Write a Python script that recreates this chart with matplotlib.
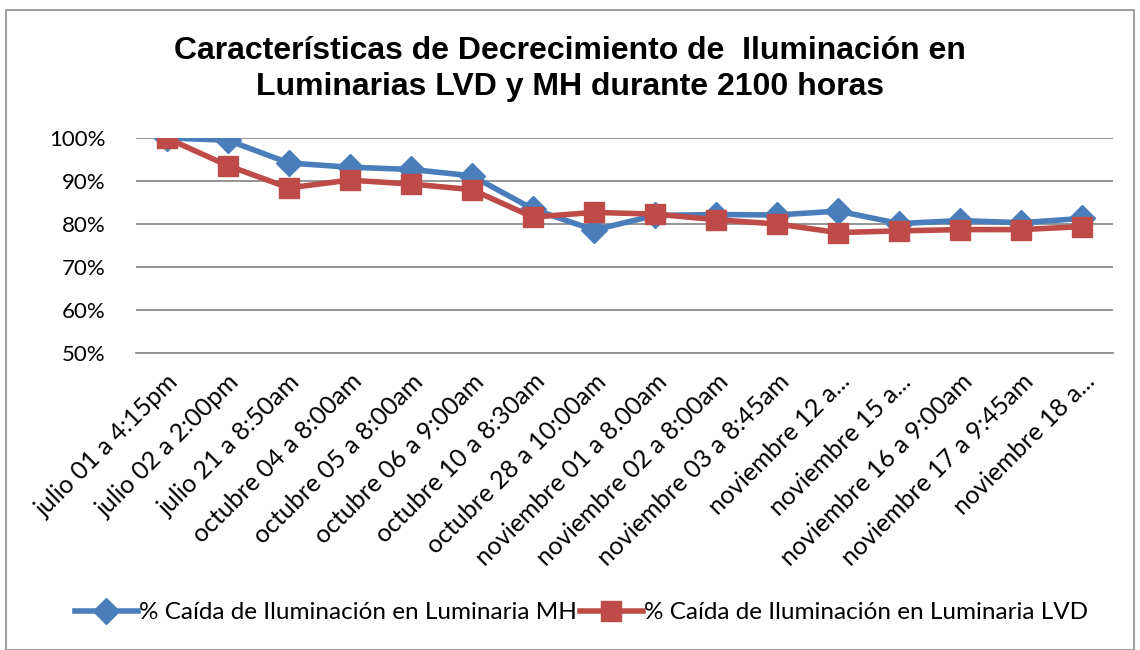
import matplotlib.pyplot as plt
from matplotlib.patches import Rectangle
from matplotlib.ticker import FuncFormatter

fechas = [
    "julio 01 a 4:15pm",
    "julio 02 a 2:00pm",
    "julio 21 a 8:50am",
    "octubre 04 a 8:00am",
    "octubre 05 a 8:00am",
    "octubre 06 a 9:00am",
    "octubre 10 a 8:30am",
    "octubre 28 a 10:00am",
    "noviembre 01 a 8.00am",
    "noviembre 02 a 8:00am",
    "noviembre 03 a 8:45am",
    "noviembre 12 a...",
    "noviembre 15 a...",
    "noviembre 16 a 9:00am",
    "noviembre 17 a 9:45am",
    "noviembre 18 a...",
]
caida_mh = [1.000, 0.995, 0.942, 0.932, 0.927, 0.912, 0.835, 0.786,
            0.820, 0.822, 0.821, 0.830, 0.801, 0.808, 0.803, 0.813]
caida_lvd = [1.000, 0.936, 0.884, 0.902, 0.893, 0.880, 0.816, 0.827,
             0.823, 0.810, 0.800, 0.780, 0.784, 0.787, 0.787, 0.794]

AZUL = "#4A7EBB"
ROJO = "#BE4B48"
FUENTE = "Lato"

fig = plt.figure(figsize=(11.4, 6.5), dpi=100)
fig.patches.append(Rectangle((0.005, 0.0), 0.99, 0.985, transform=fig.transFigure,
                             fill=False, edgecolor="#8c8c8c", linewidth=1.2))
ax = fig.add_axes([136 / 1140, 1 - 353 / 650, 977 / 1140, 215 / 650])

x = range(len(fechas))
ax.plot(x, caida_mh, color=AZUL, linewidth=4, marker="D", markersize=13,
        label="% Caída de Iluminación en Luminaria MH", zorder=3)
ax.plot(x, caida_lvd, color=ROJO, linewidth=4, marker="s", markersize=14.5,
        label="% Caída de Iluminación en Luminaria LVD", zorder=4)

ax.set_xlim(-0.5, len(fechas) - 0.5)
ax.set_ylim(0.5, 1.0)
ax.set_yticks([0.5, 0.6, 0.7, 0.8, 0.9, 1.0])
ax.yaxis.set_major_formatter(FuncFormatter(lambda v, _: f"{v * 100:.0f}%"))
ax.grid(axis="y", color="#8c8c8c", linewidth=1.3)
ax.set_axisbelow(True)
for lado in ("top", "right", "left"):
    ax.spines[lado].set_visible(False)
ax.spines["bottom"].set_color("#8c8c8c")
ax.spines["bottom"].set_linewidth(1.3)
ax.tick_params(axis="y", length=0, labelsize=16, pad=22)
ax.tick_params(axis="x", length=0, labelsize=18, pad=12)
ax.set_xticks(list(x))
ax.set_xticklabels(fechas, rotation=45, ha="right", rotation_mode="anchor")
for etiqueta in ax.get_xticklabels() + ax.get_yticklabels():
    etiqueta.set_family(FUENTE)

fig.text(0.5, 0.894, "Características de Decrecimiento de  Iluminación en\n"
         "Luminarias LVD y MH durante 2100 horas",
         ha="center", va="center", fontsize=23, fontweight="bold",
         family="Liberation Sans", linespacing=1.25)

fig.legend(loc="center", bbox_to_anchor=(0.51, 0.057), ncol=2, frameon=False,
           prop={"family": FUENTE, "size": 17.5}, handlelength=2.6,
           handletextpad=0.05, columnspacing=0.1)

fig.savefig("out.png", dpi=100)
